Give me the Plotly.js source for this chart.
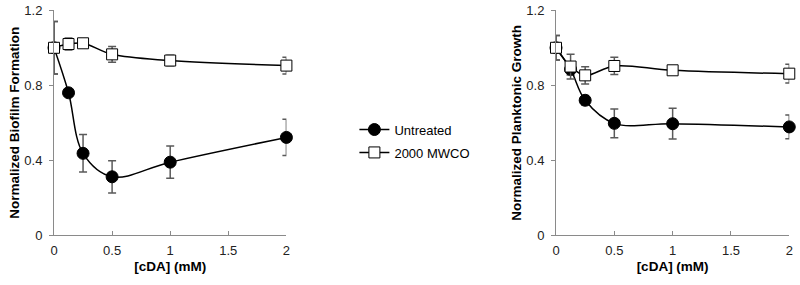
<!DOCTYPE html>
<html>
<head>
<meta charset="utf-8">
<script src="https://cdn.plot.ly/plotly-3.0.1.min.js"></script>
<style>html,body{margin:0;padding:0;background:#fff;}#chart{width:800px;height:285px;}</style>
</head>
<body>
<div id="chart"></div>
<script>
const conc = [0, 0.125, 0.25, 0.5, 1, 2];

const biofilmUntreated = [1.0, 0.76, 0.437, 0.312, 0.39, 0.522];
const biofilmUntreatedErr = [0.14, 0.0, 0.1, 0.086, 0.086, 0.097];
const biofilmMWCO = [1.0, 1.02, 1.024, 0.965, 0.932, 0.905];
const biofilmMWCOErr = [0.14, 0.032, 0.012, 0.042, 0.028, 0.045];

const planktonUntreated = [1.0, 0.885, 0.72, 0.597, 0.595, 0.578];
const planktonUntreatedErr = [0.065, 0.03, 0.025, 0.077, 0.082, 0.063];
const planktonMWCO = [1.0, 0.9, 0.853, 0.903, 0.88, 0.862];
const planktonMWCOErr = [0.065, 0.066, 0.046, 0.046, 0.012, 0.05];

const seriesNames = ['Untreated', '2000 MWCO'];
const xTicks = [0, 0.5, 1, 1.5, 2];
const xTickText = ['0', '0.5', '1', '1.5', '2'];
const yTicks = [0, 0.4, 0.8, 1.2];
const yTickText = ['0', '0.4', '0.8', '1.2'];

function errBar(arr) {
  return {type: 'data', array: arr, visible: true, color: '#5a5a5a', thickness: 1.5, width: 4};
}
function mk(y, e, name, xa, ya, filled, show) {
  return {
    x: conc, y: y, name: name, type: 'scatter', mode: 'lines+markers',
    xaxis: xa, yaxis: ya, showlegend: show, legendgroup: name, cliponaxis: false,
    line: {color: '#000', width: 1.5, shape: 'spline', smoothing: 1},
    marker: filled ? {symbol: 'circle', size: 12, color: '#000', line: {color: '#000', width: 1}}
                   : {symbol: 'square', size: 11, color: '#fff', line: {color: '#000', width: 1}},
    error_y: errBar(e)
  };
}

const traces = [
  mk(biofilmUntreated, biofilmUntreatedErr, seriesNames[0], 'x', 'y', true, true),
  mk(biofilmMWCO, biofilmMWCOErr, seriesNames[1], 'x', 'y', false, true),
  mk(planktonUntreated, planktonUntreatedErr, seriesNames[0], 'x2', 'y2', true, false),
  mk(planktonMWCO, planktonMWCOErr, seriesNames[1], 'x2', 'y2', false, false)
];

const tickFont = {family: 'Liberation Sans, Arial, sans-serif', size: 13, color: '#222'};
const titleFont = {family: 'Liberation Sans, Arial, sans-serif', size: 13.5, color: '#000', weight: 'bold'};

function xAxis(domain, anchor) {
  return {
    domain: domain, anchor: anchor, range: [0, 2], tickvals: xTicks, ticktext: xTickText,
    showgrid: false, zeroline: false, showline: true, linecolor: '#8a8a8a', linewidth: 1,
    ticks: 'inside', ticklen: 4, tickcolor: '#8a8a8a', tickfont: tickFont, ticklabelstandoff: 3,
    title: {text: '<b>[cDA] (mM)</b>', font: titleFont, standoff: 4}
  };
}
function yAxis(domain, anchor, title) {
  return {
    domain: domain, anchor: anchor, range: [0, 1.2], tickvals: yTicks, ticktext: yTickText,
    showgrid: false, zeroline: false, showline: true, linecolor: '#8a8a8a', linewidth: 1,
    ticks: 'outside', ticklen: 4, tickcolor: '#8a8a8a', tickfont: tickFont, ticklabelstandoff: 4,
    title: {text: '<b>' + title + '</b>', font: titleFont, standoff: 1}
  };
}

const layout = {
  width: 800, height: 285,
  margin: {l: 0, r: 0, t: 0, b: 0},
  paper_bgcolor: '#fff', plot_bgcolor: '#fff',
  xaxis: xAxis([0.0675, 0.358], 'y'),
  yaxis: yAxis([0.1744, 0.9639], 'x', 'Normalized Biofilm Formation'),
  xaxis2: xAxis([0.695, 0.9866], 'y2'),
  yaxis2: yAxis([0.1744, 0.9639], 'x2', 'Normalized Planktonic Growth'),
  showlegend: true,
  legend: {
    x: 0.443, y: 0.505, xanchor: 'left', yanchor: 'middle',
    font: {family: 'Liberation Sans, Arial, sans-serif', size: 13, color: '#000'},
    bgcolor: 'rgba(0,0,0,0)', tracegroupgap: 3, itemwidth: 30
  }
};

Plotly.newPlot('chart', traces, layout, {displayModeBar: false, staticPlot: true});
</script>
</body>
</html>
